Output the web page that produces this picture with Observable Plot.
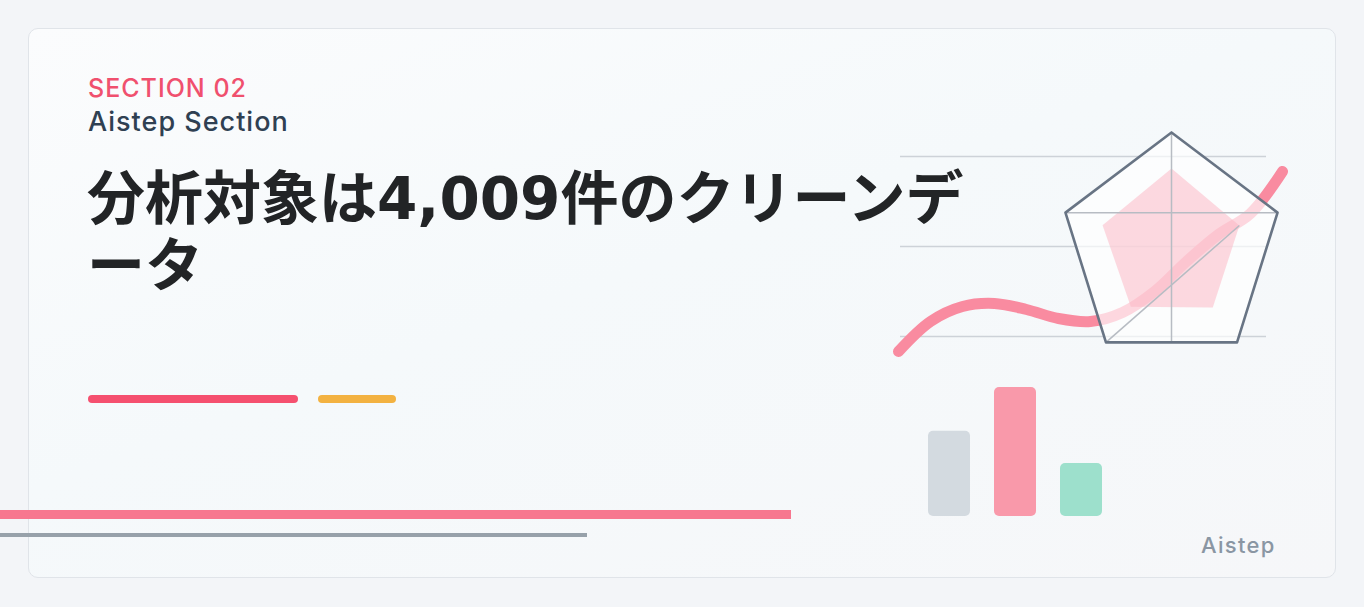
<!DOCTYPE html>
<html>
<head>
<meta charset="utf-8">
<script src="https://cdn.jsdelivr.net/npm/d3@7"></script>
<script src="https://cdn.jsdelivr.net/npm/@observablehq/plot@0.6"></script>
<style>
  html, body { margin: 0; padding: 0; }
  body { width: 1364px; height: 607px; background: #f3f5f8; position: relative; overflow: hidden;
         font-family: "DejaVu Sans", "Noto Sans CJK JP", sans-serif; }
  #card { position: absolute; left: 28px; top: 28px; width: 1306px; height: 548px;
          border: 1.5px solid #e0e4e9; border-radius: 10px;
          background: linear-gradient(160deg, #fbfcfd 0%, #f5f9fb 45%, #f6f7f9 100%); }
  .abs { position: absolute; white-space: nowrap; }
  .latin { font-family: "Inter", "DejaVu Sans", sans-serif; font-weight: 500; }
  #kicker { left: 88px; top: 76px; font-size: 25px; line-height: 25px; color: #f0506e; letter-spacing: 1px; }
  #sub { left: 88px; top: 108px; font-size: 27px; line-height: 27px; color: #2f4052; letter-spacing: 1px; }
  #title { left: 87px; top: 166px; font-size: 58px; font-weight: 700; color: #222426; line-height: 67px; }
  #brand { left: 1201px; top: 534px; font-size: 22px; line-height: 22px; color: #8a96a3; letter-spacing: 1.3px; }
  .pill { position: absolute; height: 8px; border-radius: 4px; }
  .rule { position: absolute; }
  .plotwrap { position: absolute; }
  .plotwrap svg { overflow: visible; }
</style>
</head>
<body>
<div id="card"></div>
<div id="kicker" class="abs latin"></div>
<div id="sub" class="abs latin"></div>
<div id="title" class="abs"></div>
<div class="pill" style="left:88px;top:395px;width:210px;background:#f5506f"></div>
<div class="pill" style="left:318px;top:395px;width:78px;background:#f3b241"></div>
<div class="rule" style="left:0;top:510px;width:791px;height:9px;background:#f7778f"></div>
<div class="rule" style="left:0;top:533px;width:587px;height:4px;background:#97a1aa"></div>
<div id="curvePlot" class="plotwrap" style="left:880px;top:90px"></div>
<div id="radarPlot" class="plotwrap" style="left:1040px;top:110px"></div>
<div id="barPlot" class="plotwrap" style="left:900px;top:370px"></div>
<div id="brand" class="abs latin"></div>
<script>
// ---- text ----
const kickerText = "SECTION 02";
const subText = "Aistep Section";
const titleLines = ["分析対象は4,009件のクリーンデ", "ータ"];
const brandText = "Aistep";

// ---- decorative data ----
const barCategories = ["A", "B", "C"];
const barValues = [66, 100, 41];
const barColors = ["#d3dae0", "#f999aa", "#9de0cc"];

const radarAxes = ["a1", "a2", "a3", "a4", "a5"];
const radarValues = [0.69, 0.64, 0.63, 0.62, 0.65];

const curveValues = [15, 25, 30, 31, 29, 26, 25, 28, 35, 45, 54, 61, 75];
const gridValues = [20, 50, 80];

document.getElementById("kicker").textContent = kickerText;
document.getElementById("sub").textContent = subText;
document.getElementById("brand").textContent = brandText;
const t = document.getElementById("title");
titleLines.forEach((l, i) => { if (i) t.appendChild(document.createElement("br")); t.appendChild(document.createTextNode(l)); });

// ---- curve + grid ----
const curveData = curveValues.map((v, i) => ({i, v}));
const curvePlot = Plot.plot({
  width: 420, height: 310, marginLeft: 20, marginRight: 34, marginTop: 0, marginBottom: 0,
  x: {domain: [0, curveValues.length - 1], range: [18, 402], axis: null},
  y: {domain: [0, 100], range: [306, 6], axis: null},
  style: {background: "transparent", overflow: "visible"},
  marks: [
    Plot.ruleY(gridValues, {stroke: "#cdd2d8", strokeWidth: 1.6}),
    Plot.line(curveData, {x: "i", y: "v", curve: "catmull-rom", stroke: "#f98ba0", strokeWidth: 11, strokeLinecap: "round"})
  ]
});
document.getElementById("curvePlot").appendChild(curvePlot);

// ---- radar ----
const n = radarAxes.length;
const ang = i => i * 2 * Math.PI / n;
const outer = radarAxes.map((a, i) => ({x: Math.sin(ang(i)), y: Math.cos(ang(i))}));
const inner = radarValues.map((v, i) => ({x: v * Math.sin(ang(i)), y: v * Math.cos(ang(i))}));
const closed = arr => arr.concat([arr[0]]);
const bottomY = outer[2].y;
const spokes = [
  {x1: outer[0].x, y1: outer[0].y, x2: outer[0].x, y2: bottomY},
  {x1: outer[4].x, y1: outer[4].y, x2: outer[1].x, y2: outer[1].y},
  {x1: outer[3].x, y1: outer[3].y, x2: inner[1].x, y2: inner[1].y}
];
const radarPlot = Plot.plot({
  width: 260, height: 260, margin: 0,
  x: {domain: [-1, 1], range: [131 - 111.5, 131 + 111.5], axis: null},
  y: {domain: [-1, 1], range: [254, 22], axis: null},
  style: {background: "transparent", overflow: "visible"},
  marks: [
    Plot.line(closed(outer), {x: "x", y: "y", fill: "white", fillOpacity: 0.66, stroke: "none"}),
    Plot.line(closed(inner), {x: "x", y: "y", fill: "#fbb3c1", fillOpacity: 0.5, stroke: "none"}),
    Plot.link(spokes, {x1: "x1", y1: "y1", x2: "x2", y2: "y2", stroke: "#b7bcc3", strokeWidth: 1.5}),
    Plot.line(closed(outer), {x: "x", y: "y", stroke: "#687484", strokeWidth: 2.6, strokeLinejoin: "round"})
  ]
});
document.getElementById("radarPlot").appendChild(radarPlot);

// ---- bars ----
const barData = barCategories.map((c, i) => ({c, v: barValues[i]}));
const barPlot = Plot.plot({
  width: 230, height: 160, marginLeft: 28, marginRight: 28, marginTop: 17, marginBottom: 14,
  x: {domain: barCategories, paddingInner: 24 / 66, paddingOuter: 0, axis: null},
  y: {domain: [0, 100], axis: null},
  color: {domain: barCategories, range: barColors},
  style: {background: "transparent", overflow: "visible"},
  marks: [
    Plot.barY(barData, {x: "c", y: "v", fill: "c", rx: 5})
  ]
});
document.getElementById("barPlot").appendChild(barPlot);
</script>
</body>
</html>
